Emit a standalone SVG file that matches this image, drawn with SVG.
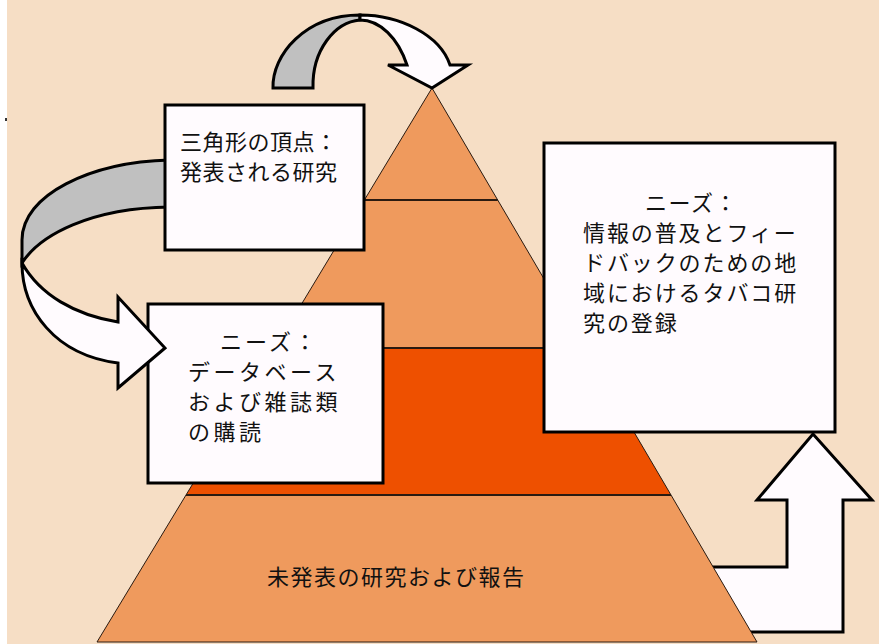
<svg xmlns="http://www.w3.org/2000/svg" width="879" height="644" viewBox="0 0 879 644">
<style>
.box{fill:#FFFBFE;stroke:#000;stroke-width:3}
.arr{stroke:#000;stroke-width:3;stroke-linejoin:miter}
.lay{stroke:#2a1a10;stroke-width:1}
.t{font-family:"Noto Sans CJK JP","Noto Sans",sans-serif;font-size:22px;fill:#111}
</style>
<rect x="0" y="0" width="879" height="644" fill="#FFFFFF"/>
<rect x="7" y="0" width="872" height="644" fill="#F6DEC5"/>
<rect x="5" y="118" width="2" height="3" fill="#333"/>
<g id="connectors">
<path id="arrow-right" class="arr" fill="#FFFBFE" d="M700,567 L787,567 L787,500 L757,500 L813,434 L872,500 L843,500 L843,632 L700,632 Z"/>
</g>
<g id="pyramid">
<polygon id="layer-top" class="lay" fill="#EF9A5D" points="432,88 497.7,200 364.4,200"/>
<polygon id="layer-2" class="lay" fill="#EF9A5D" points="364.4,200 497.7,200 584.6,348 275,348"/>
<polygon id="layer-3" class="lay" fill="#EE5000" points="275,348 584.6,348 671,495 186,495"/>
<polygon id="layer-base" class="lay" fill="#EF9A5D" points="186,495 671,495 757,642 97,642"/>
<line x1="364.4" y1="200" x2="497.7" y2="200" stroke="#2a1a10" stroke-width="2"/>
<line x1="275" y1="348" x2="584.6" y2="348" stroke="#2a1a10" stroke-width="2"/>
<line x1="186" y1="495" x2="671" y2="495" stroke="#2a1a10" stroke-width="2"/>
<text class="t" x="267" y="585" letter-spacing="1.5">未発表の研究および報告</text>
</g>
<g id="node-databases">
<rect class="box" x="148" y="304" width="235" height="179"/>
<text class="t" x="220" y="350" letter-spacing="3">ニーズ：</text>
<text class="t" x="188" y="380" letter-spacing="3.5">データベース</text>
<text class="t" x="188" y="410" letter-spacing="3.5">および雑誌類</text>
<text class="t" x="188" y="440" letter-spacing="3.5">の購読</text>
</g>
<g id="connectors-curved">
<path id="arrow-left-back" class="arr" fill="#C0C0C0" d="M170,160 C90,162 22,195 22,240 L22,263 C40,235 90,208 170,207 Z"/>
<path id="arrow-left-front" class="arr" fill="#FFFBFE" d="M22,263 C22,310 55,355 118,363 L118,388 L165,348 L118,297 L118,322 C75,315 40,295 22,263 Z"/>
<path id="arrow-top-back" class="arr" fill="#C0C0C0" d="M273,88 C272,55 305,15 360,15 L360,20 C335,22 312,50 313,88 Z"/>
<path id="arrow-top-front" class="arr" fill="#FFFBFE" d="M360,15 C400,15 440,35 450,65 L468,65 L432,88 L388,65 L407,65 C398,38 380,20 360,20 Z"/>
</g>
<g id="node-apex">
<rect class="box" x="165" y="105" width="199" height="145"/>
<text class="t" x="180" y="150" letter-spacing="0.5">三角形の頂点：</text>
<text class="t" x="180" y="180" letter-spacing="0.5">発表される研究</text>
</g>
<g id="node-registry">
<rect class="box" x="544" y="143" width="291" height="289"/>
<text class="t" x="645" y="211" letter-spacing="1.5">ニーズ：</text>
<text class="t" x="583" y="241" letter-spacing="1.9">情報の普及とフィー</text>
<text class="t" x="583" y="271" letter-spacing="1.9">ドバックのための地</text>
<text class="t" x="583" y="301" letter-spacing="1.9">域におけるタバコ研</text>
<text class="t" x="583" y="331" letter-spacing="1.9">究の登録</text>
</g>
</svg>
